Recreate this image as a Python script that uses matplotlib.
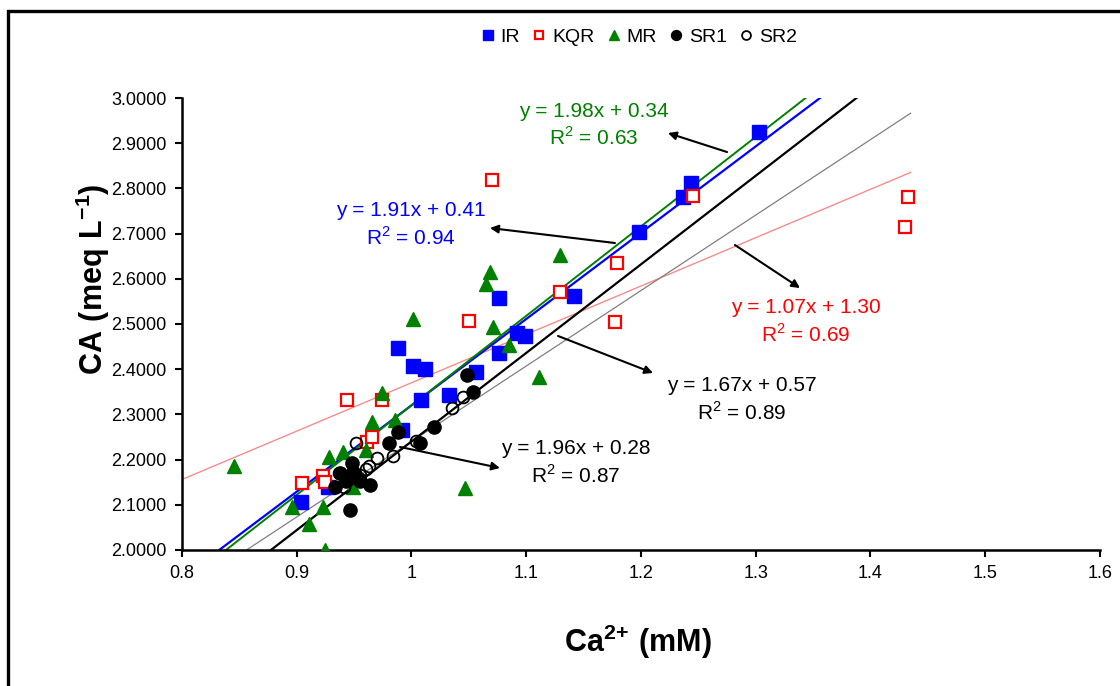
import numpy as np
import matplotlib
matplotlib.use("Agg")
import matplotlib.pyplot as plt
from matplotlib.patches import Rectangle
from matplotlib.ticker import FormatStrFormatter, MultipleLocator

plt.rcParams["font.family"] = ["Liberation Sans", "DejaVu Sans"]
plt.rcParams["mathtext.fontset"] = "custom"
plt.rcParams["mathtext.rm"] = "Liberation Sans"
plt.rcParams["mathtext.bf"] = "Liberation Sans:bold"

########### data
ir_x = [0.904, 0.927, 0.992, 0.988, 1.001, 1.012, 1.008, 1.033, 1.056, 1.076,
        1.076, 1.092, 1.099, 1.142, 1.198, 1.237, 1.244, 1.303]
ir_y = [2.106, 2.139, 2.265, 2.447, 2.407, 2.400, 2.332, 2.343, 2.394, 2.558,
        2.435, 2.480, 2.473, 2.562, 2.704, 2.781, 2.812, 2.925]

kqr_x = [0.905, 0.923, 0.925, 0.944, 0.961, 0.966, 0.974, 1.050, 1.070, 1.129,
         1.177, 1.179, 1.245, 1.430, 1.433]
kqr_y = [2.148, 2.164, 2.150, 2.332, 2.240, 2.250, 2.332, 2.507, 2.819, 2.571,
         2.504, 2.635, 2.783, 2.714, 2.781]

mr_x = [0.845, 0.896, 0.911, 0.925, 0.923, 0.928, 0.940, 0.960, 0.966, 0.986,
        0.974, 0.949, 1.047, 1.001, 1.068, 1.065, 1.071, 1.085, 1.111, 1.129]
mr_y = [2.186, 2.095, 2.058, 2.000, 2.096, 2.206, 2.217, 2.221, 2.283, 2.288,
        2.347, 2.140, 2.137, 2.511, 2.615, 2.588, 2.494, 2.454, 2.383, 2.653]

sr1_x = [0.933, 0.938, 0.943, 0.946, 0.948, 0.949, 0.951, 0.955, 0.964, 0.980,
         0.988, 1.007, 1.020, 1.048, 1.054]
sr1_y = [2.139, 2.170, 2.152, 2.088, 2.192, 2.172, 2.161, 2.152, 2.144, 2.237,
         2.261, 2.237, 2.271, 2.387, 2.350]

sr2_x = [0.937, 0.941, 0.944, 0.952, 0.955, 0.960, 0.963, 0.970, 0.984, 1.004,
         1.035, 1.045]
sr2_y = [2.170, 2.139, 2.155, 2.237, 2.166, 2.180, 2.186, 2.203, 2.208, 2.241,
         2.314, 2.338]

# trendlines: slope, intercept, R2
fits = {
    "IR": (1.91, 0.41, 0.94),
    "KQR": (1.07, 1.30, 0.69),
    "MR": (1.98, 0.34, 0.63),
    "SR1": (1.96, 0.28, 0.87),
    "SR2": (1.67, 0.57, 0.89),
}
line_x = np.linspace(0.8, 1.435, 50)

fig = plt.figure(figsize=(11.2, 6.86), dpi=100)
ax = fig.add_axes([0.1625, 0.1983, 0.8196, 0.6588])

# trend lines
ax.plot(line_x, fits["KQR"][0] * line_x + fits["KQR"][1], color="#ff8080", lw=0.9, zorder=2)
ax.plot(line_x, fits["SR2"][0] * line_x + fits["SR2"][1], color="#808080", lw=0.9, zorder=2)
ax.plot(line_x, fits["SR1"][0] * line_x + fits["SR1"][1], color="black", lw=1.6, zorder=2)
ax.plot(line_x, fits["IR"][0] * line_x + fits["IR"][1], color="#0000ff", lw=1.6, zorder=2)
ax.plot(line_x, fits["MR"][0] * line_x + fits["MR"][1], color="#008000", lw=1.4, zorder=2)

# points
ax.plot(ir_x, ir_y, "s", ms=9.5, color="#0000ff", mec="#0000ff", ls="none", label="IR", zorder=3)
ax.plot(kqr_x, kqr_y, "s", ms=8.5, mfc="white", mec="#ff0000", mew=1.6, ls="none", label="KQR", zorder=3)
ax.plot(mr_x, mr_y, "^", ms=10.5, color="#008000", ls="none", label="MR", zorder=3)
ax.plot(sr1_x, sr1_y, "o", ms=9.5, color="black", ls="none", label="SR1", zorder=4)
ax.plot(sr2_x, sr2_y, "o", ms=8.5, mfc="none", mec="black", mew=1.3, ls="none", label="SR2", zorder=4)

ax.set_xlim(0.8, 1.6)
ax.set_ylim(2.0, 3.0)
ax.xaxis.set_major_locator(MultipleLocator(0.1))
ax.yaxis.set_major_locator(MultipleLocator(0.1))
ax.xaxis.set_major_formatter(FormatStrFormatter("%g"))
ax.yaxis.set_major_formatter(FormatStrFormatter("%.4f"))
ax.spines["top"].set_visible(False)
ax.spines["right"].set_visible(False)
ax.spines["left"].set_linewidth(1.8)
ax.spines["bottom"].set_linewidth(1.8)
ax.tick_params(direction="out", length=5, width=1.5, labelsize=13, pad=6)

ax.set_ylabel(r"$\mathbf{CA\ (meq\ L^{{-}1})}$", fontsize=22)
ax.yaxis.set_label_coords(-0.076, 0.60)
ax.set_xlabel(r"$\mathbf{Ca^{2{+}}\ (mM)}$", fontsize=22)
ax.xaxis.set_label_coords(0.497, -0.16)

# equations with arrows
arrow = dict(arrowstyle="-|>", color="black", lw=1.5, mutation_scale=12, shrinkA=0, shrinkB=0)
labels = [
    ("MR", "#008000", (1.159, 2.940), (1.275, 2.8805), (1.2235, 2.9226)),
    ("IR", "#0000ff", (0.9996, 2.719), (1.1773, 2.6792), (1.0684, 2.7124)),
    ("KQR", "#ff0000", (1.3438, 2.5044), (1.2819, 2.6748), (1.3386, 2.5796)),
    ("SR2", "black", (1.288, 2.3319), (1.1277, 2.4735), (1.2105, 2.3916)),
    ("SR1", "black", (1.1434, 2.1925), (0.990, 2.2279), (1.0771, 2.1814)),
]
for key, col, txt_xy, tail, head in labels:
    m, b, r2 = fits[key]
    ax.text(txt_xy[0], txt_xy[1], f"y = {m:.2f}x + {b:.2f}\nR$^2$ = {r2:.2f}",
            color=col, fontsize=15, ha="center", va="center", linespacing=1.3, zorder=5)
    ax.annotate("", xy=head, xytext=tail, arrowprops=arrow, zorder=5)

fig.legend(loc="center", bbox_to_anchor=(0.571, 0.946), ncol=5, frameon=False,
           fontsize=14, markerscale=0.75, handlelength=0.6, handletextpad=0.35,
           columnspacing=0.7)

# outer frame
fig.patches.append(Rectangle((8 / 1120, -0.1), 1.2, (686 - 11) / 686 + 0.1,
                             transform=fig.transFigure, fill=False, lw=2.4,
                             edgecolor="black"))

plt.savefig("out.png", dpi=100)
plt.close("all")
